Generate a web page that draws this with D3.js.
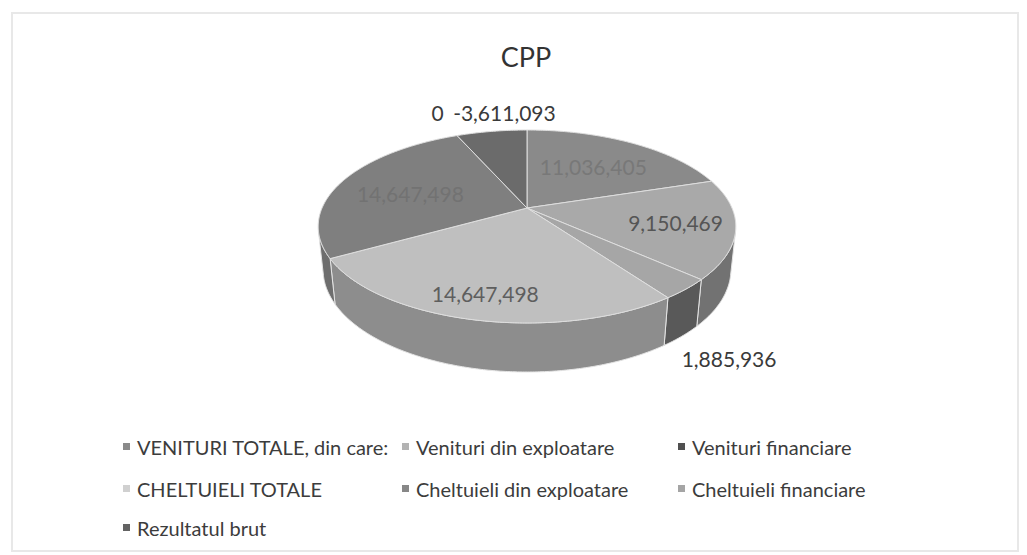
<!DOCTYPE html>
<html>
<head>
<meta charset="utf-8">
<script src="https://cdn.jsdelivr.net/npm/d3@7"></script>
<style>
  body { margin: 0; background: #fff; }
  text { font-family: Lato, "Open Sans", sans-serif; }
</style>
</head>
<body>
<script>
var width = 1027;
var height = 555;

// data
var categories = ["VENITURI TOTALE, din care:", "Venituri din exploatare", "Venituri financiare",
                  "CHELTUIELI TOTALE", "Cheltuieli din exploatare", "Cheltuieli financiare", "Rezultatul brut"];
var values = [11036405, 9150469, 1885936, 14647498, 14647498, 0, -3611093];

// styles (scanned grayscale look)
var topColors  = ["#8a8a8a", "#a9a9a9", "#a6a6a6", "#bfbfbf", "#7f7f7f", "#a5a5a5", "#6b6b6b"];
var sideColors = ["#6f6f6f", "#727272", "#595959", "#8d8d8d", "#6e6e6e", "#7a7a7a", "#555555"];
var legendColors = ["#8a8a8a", "#b3b3b3", "#505050", "#d0d0d0", "#878787", "#a5a5a5", "#636363"];
var labelColors = ["#787878", "#555555", "#3a3a3a", "#5e5e5e", "#727272", "#3a3a3a", "#3a3a3a"];
var labelR  = [0.6, 0.72, 1.25, 0.8, 0.6, 1.4, 1.4];
var labelH  = [0, 0, -0.22, 0, 0, 0, 0];
var labelDx = [0, 0, 0, 0, -4, 3, 24];
var labelDy = [0, 0, 0, 0, 2, 0, 5];

var svg = d3.select("body")
    .append("svg")
    .attr("width", width)
    .attr("height", height);

// chart frame
svg.append("rect")
    .attr("x", 12).attr("y", 13)
    .attr("width", 1006).attr("height", 538)
    .attr("fill", "none")
    .attr("stroke", "#e8e8e8")
    .attr("stroke-width", 2);

svg.append("text")
    .attr("x", 526)
    .attr("y", 67)
    .attr("text-anchor", "middle")
    .attr("font-size", "27px")
    .attr("fill", "#333")
    .text("CPP");

// simple perspective camera for the 3d pie
var cx = 527, cy = 208;
var F = 953, D = 4.65;
var sa = 0.4534, ca = 0.891;   // tilt
var H = 0.238;                 // pie thickness

function proj(r, a, h) {
    var u = r * Math.sin(a), v = r * Math.cos(a);
    var yc = v * sa + h * ca;
    var zc = D + v * ca - h * sa;
    return [cx + F * u / zc, cy - F * yc / zc];
}

// angles where the outer wall faces the camera
var vis = Math.acos(-1 / (D * ca));
var visStart = vis, visEnd = 2 * Math.PI - vis;

function arcPts(a0, a1, h) {
    var n = Math.max(2, Math.ceil((a1 - a0) / 0.01));
    return d3.range(n + 1).map(function(i) {
        return proj(1, a0 + (a1 - a0) * i / n, h);
    });
}

var pie = d3.pie()
    .sort(null)
    .value(function(d) { return Math.abs(d); });

var arcs = pie(values);
var line = d3.line();

// outer walls
var walls = arcs.filter(function(d) {
    return d.endAngle > visStart && d.startAngle < visEnd && d.endAngle > d.startAngle;
});

svg.append("g").selectAll("path")
    .data(walls)
    .enter()
    .append("path")
    .attr("d", function(d) {
        var a0 = Math.max(d.startAngle, visStart);
        var a1 = Math.min(d.endAngle, visEnd);
        var top = arcPts(a0, a1, 0);
        var bottom = arcPts(a0, a1, -H).reverse();
        return line(top.concat(bottom)) + "Z";
    })
    .attr("fill", function(d) { return sideColors[d.index]; })
    .attr("stroke", "#e4e4e4")
    .attr("stroke-width", 1);

// top faces
svg.append("g").selectAll("path")
    .data(arcs.filter(function(d) { return d.endAngle > d.startAngle; }))
    .enter()
    .append("path")
    .attr("d", function(d) {
        var pts = [proj(0, 0, 0)].concat(arcPts(d.startAngle, d.endAngle, 0));
        return line(pts) + "Z";
    })
    .attr("fill", function(d) { return topColors[d.index]; })
    .attr("stroke", "#dedede")
    .attr("stroke-width", 1)
    .attr("stroke-linejoin", "round");

// data labels (plain hyphen for negatives, like Excel)
var fmt = d3.formatLocale({ decimal: ".", thousands: ",", grouping: [3], currency: ["", ""], minus: "-" }).format(",");
svg.append("g").selectAll("text")
    .data(arcs)
    .enter()
    .append("text")
    .attr("x", function(d) {
        var mid = (d.startAngle + d.endAngle) / 2;
        return proj(labelR[d.index], mid, labelH[d.index])[0] + labelDx[d.index];
    })
    .attr("y", function(d) {
        var mid = (d.startAngle + d.endAngle) / 2;
        return proj(labelR[d.index], mid, labelH[d.index])[1] + labelDy[d.index];
    })
    .attr("text-anchor", "middle")
    .attr("dominant-baseline", "central")
    .attr("font-size", "21px")
    .attr("fill", function(d) { return labelColors[d.index]; })
    .text(function(d) { return fmt(d.data); });

// legend, 3 columns
var colX = [123, 402, 678];
var rowY = [447, 489, 528];

var leg = svg.append("g").selectAll("g")
    .data(categories)
    .enter()
    .append("g")
    .attr("transform", function(d, i) {
        return "translate(" + colX[i % 3] + "," + rowY[Math.floor(i / 3)] + ")";
    });

leg.append("rect")
    .attr("x", 0)
    .attr("y", -4)
    .attr("width", 7)
    .attr("height", 7)
    .attr("fill", function(d, i) { return legendColors[i]; });

leg.append("text")
    .attr("x", 14)
    .attr("y", 0)
    .attr("dominant-baseline", "central")
    .attr("font-size", "20px")
    .attr("fill", "#3c3c3c")
    .text(function(d) { return d; });
</script>
</body>
</html>
